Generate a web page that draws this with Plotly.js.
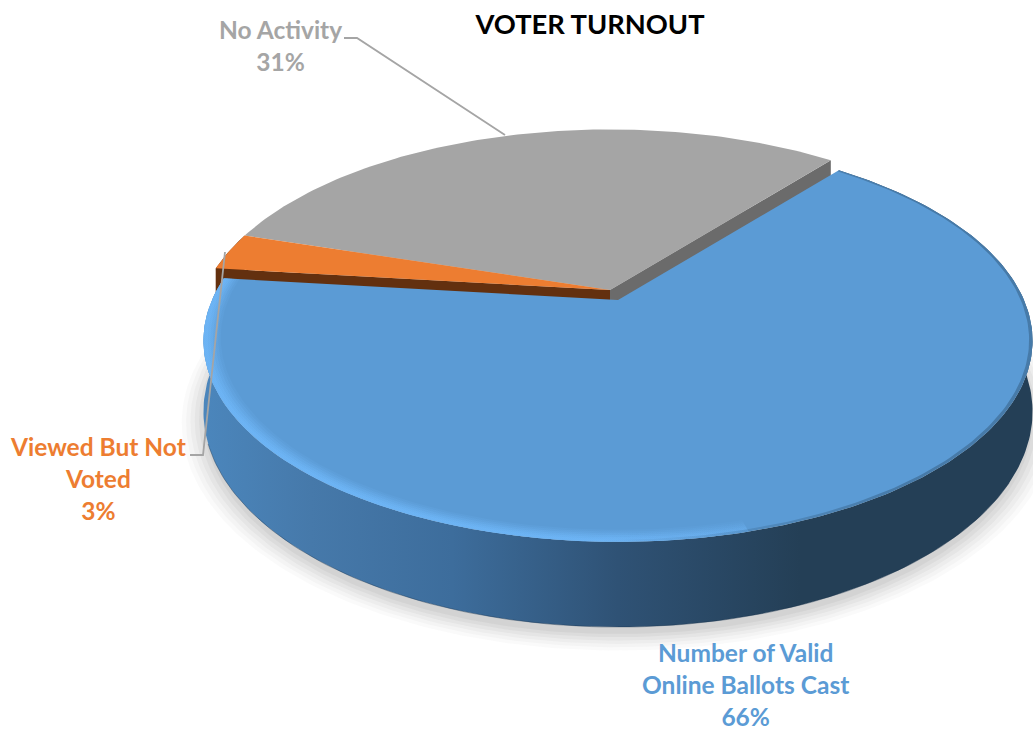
<!DOCTYPE html>
<html>
<head>
<meta charset="utf-8">
<script src="https://cdn.plot.ly/plotly-3.0.1.min.js"></script>
<style>html,body{margin:0;padding:0;background:#fff}#chart{width:1033px;height:731px}</style>
</head>
<body>
<div id="chart"></div>
<script>
// ---- data ----
var titleText = "VOTER TURNOUT";
var categories = ["Number of Valid<br>Online Ballots Cast", "Viewed But Not<br>Voted", "No Activity"];
var percents = [66, 3, 31];
var topColors = ["#5B9BD5", "#ED7D31", "#A5A5A5"];
var wallColors = ["#2F5275", "#63300F", "#6B6B6B"];

// ---- perspective tilt of the disc, in axis units ----
var view = {cx: 618, cy: 300, A: 406, B: 193, p: 0.202, h: 68, start: 39};
var pulled = {dx: -8, dy: -10};   // slices that sit behind the pulled-out one

function project(deg, rho, depth, off) {
  var t = deg * Math.PI / 180, u = rho * Math.sin(t), v = rho * Math.cos(t);
  var w = 1 + view.p * v;
  return [view.cx + view.A * u / w + off.dx,
          view.cy - view.B * v / w + (depth ? view.h / w * depth : 0) + off.dy];
}
function arc(a, b, rho, depth, off) {
  var pts = [], n = Math.max(2, Math.ceil(Math.abs(b - a)));
  for (var i = 0; i <= n; i++) pts.push(project(a + (b - a) * i / n, rho, depth, off));
  return pts;
}
function poly(pts, style) {
  var tr = {type: "scatter", mode: "lines", hoverinfo: "skip",
    x: pts.map(function (p) { return p[0]; }), y: pts.map(function (p) { return p[1]; }),
    fill: "toself", line: {width: 0}};
  for (var k in style) tr[k] = style[k];
  return tr;
}
function hGrad(start, stop, scale) {
  return {type: "horizontal", start: start, stop: stop, colorscale: scale};
}

var NONE = {dx: 0, dy: 0};
var total = percents.reduce(function (a, b) { return a + b; }, 0);
var bounds = [view.start];
percents.forEach(function (v, i) { bounds.push(bounds[i] + v / total * 360); });

var traces = [];

// soft ground shadow
[[1.05, 0.03], [1.04, 0.04], [1.03, 0.05], [1.02, 0.06], [1.01, 0.07], [1.0, 0.08]].forEach(function (s) {
  var off = {dx: 0, dy: 7};
  traces.push(poly(arc(0, 360, s[0], 1, off), {fillcolor: "rgba(110,110,110," + s[1] + ")"}));
});

// slices behind: orange then grey
var orangeArc = arc(bounds[1], bounds[2], 1, 0, pulled);
var orangeApex = project(0, 0, 0, pulled), orangeApexLow = project(0, 0, 1, pulled);
var orangeCut = project(bounds[1], 1, 0, pulled), orangeCutLow = project(bounds[1], 1, 1, pulled);
traces.push(poly(orangeArc.concat(arc(bounds[2], bounds[1], 1, 1, pulled)), {fillcolor: wallColors[1]}));
traces.push(poly([orangeApex, orangeCut, orangeCutLow, orangeApexLow, orangeApex], {fillcolor: wallColors[1]}));
var greyTip = project(bounds[3], 1, 0, pulled), greyTipLow = project(bounds[3], 1, 1, pulled);
traces.push(poly([orangeApex, greyTip, greyTipLow, orangeApexLow, orangeApex], {fillcolor: wallColors[2]}));
traces.push(poly([orangeApex].concat(arc(bounds[2], bounds[3], 1, 0, pulled), [orangeApex]), {fillcolor: topColors[2]}));
traces.push(poly([orangeApex].concat(orangeArc, [orangeApex]), {fillcolor: topColors[1]}));

// pulled-out blue slice: wall then top
var wall = arc(bounds[0], bounds[1], 1, 0, NONE).concat(arc(bounds[1], bounds[0], 1, 1, NONE));
traces.push(poly(wall, {fillgradient: hGrad(203, 1033, [
  [0, "#4B86BC"], [0.13, "#4679AA"], [0.3, "#3D6D9C"], [0.5, "#2F5275"], [0.72, "#243F56"], [1, "#243F56"]])}));
// dark contact line at the foot of the wall
traces.push({type: "scatter", mode: "lines", hoverinfo: "skip",
  x: arc(120, 250, 1, 1, NONE).map(function (p) { return p[0]; }),
  y: arc(120, 250, 1, 1, NONE).map(function (p) { return p[1]; }),
  line: {color: "rgba(25,50,75,0.4)", width: 1}});
var apex = project(0, 0, 0, NONE);
traces.push(poly([apex].concat(arc(bounds[0], bounds[1], 1, 0, NONE), [apex]), {fillcolor: topColors[0]}));

// bevel highlight along the front-left rim, built up in thin steps so it fades inward
[[0.960, 0.12], [0.966, 0.16], [0.972, 0.22], [0.978, 0.28], [0.984, 0.35], [0.990, 0.4]].forEach(function (s) {
  var band = arc(165, bounds[1], 1, 0, NONE).concat(arc(bounds[1], 165, s[0], 0, NONE));
  traces.push(poly(band, {fillgradient: hGrad(203, 860, [
    [0, "rgba(112,184,250," + s[1] + ")"], [0.62, "rgba(112,184,250," + s[1] + ")"], [1, "rgba(112,184,250,0)"]])}));
});
// soft dark edge along the front-right rim
var edge = arc(bounds[0], 190, 1, 0, NONE).concat(arc(190, bounds[0], 0.992, 0, NONE));
traces.push(poly(edge, {fillgradient: hGrad(600, 900, [[0, "rgba(50,90,125,0)"], [1, "rgba(50,90,125,0.5)"]])}));

// ---- labels ----
function labelText(i) { return categories[i] + "<br>" + percents[i] + "%"; }
var labelFont = "Lato, 'Open Sans', sans-serif";
var annotations = [
  {i: 2, x: 280, y: 45}, {i: 1, x: 98, y: 478}, {i: 0, x: 745, y: 684}
].map(function (a) {
  return {x: a.x, y: a.y, xref: "x", yref: "y", showarrow: false, text: "<b>" + labelText(a.i).replace(/<br>/g, "</b><br><b>") + "</b>",
    align: "center", xanchor: "center", yanchor: "middle",
    font: {family: labelFont, size: 24.5, color: topColors[a.i]}};
});

var layout = {
  width: 1033, height: 731, margin: {l: 0, r: 0, t: 0, b: 0},
  paper_bgcolor: "#fff", plot_bgcolor: "#fff", showlegend: false, hovermode: false,
  title: {text: "<b>" + titleText + "</b>", x: 590 / 1033, xanchor: "center", y: 1 - 24 / 731, yanchor: "middle",
    font: {family: labelFont, size: 27.3, color: "#000"}},
  xaxis: {range: [0, 1033], visible: false, fixedrange: true},
  yaxis: {range: [731, 0], visible: false, fixedrange: true},
  annotations: annotations,
  shapes: [
    {type: "path", path: "M344,38 L357,38 L505,135", line: {color: "#A5A5A5", width: 1.8}},
    {type: "path", path: "M190,455 L203,455 L225,252", line: {color: "#A5A5A5", width: 1.8}}
  ]
};
Plotly.newPlot("chart", traces, layout, {displayModeBar: false, staticPlot: true});
</script>
</body>
</html>
